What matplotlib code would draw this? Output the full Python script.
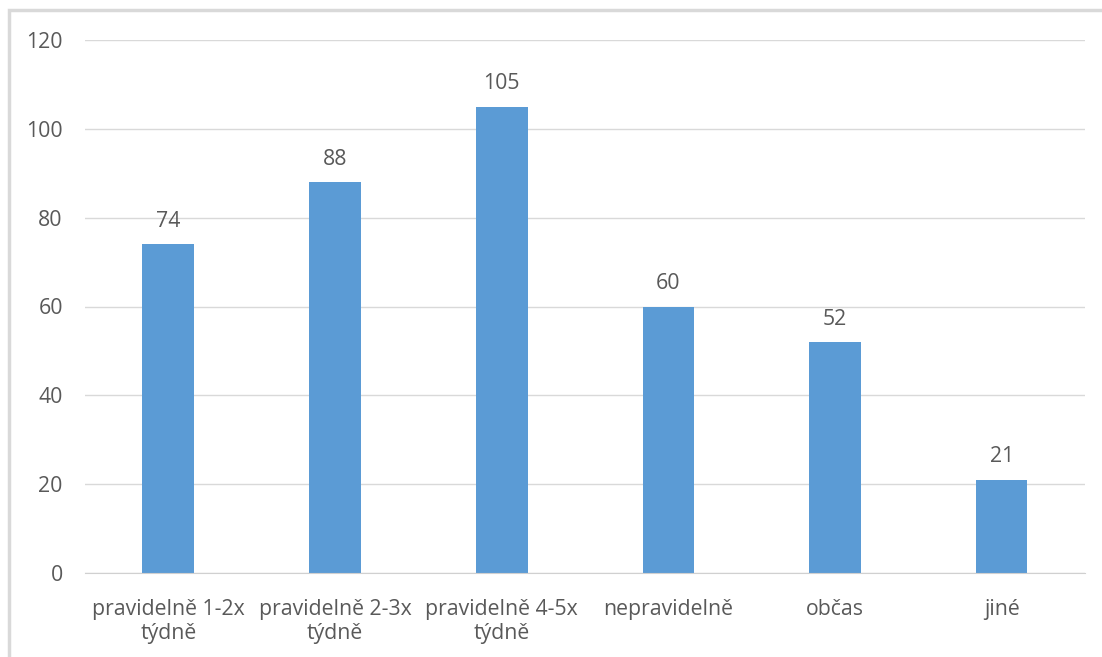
import matplotlib.pyplot as plt
from matplotlib.patches import Rectangle

# Data
categories = ['pravidelně 1-2x\ntýdně', 'pravidelně 2-3x\ntýdně', 'pravidelně 4-5x\ntýdně',
              'nepravidelně', 'občas', 'jiné']
values = [74, 88, 105, 60, 52, 21]
yticks = [0, 20, 40, 60, 80, 100, 120]

BAR_COLOR = '#5B9BD5'
TEXT_COLOR = '#595959'
GRID_COLOR = '#D9D9D9'
FS = 15.3

plt.rcParams['font.family'] = ['Open Sans', 'DejaVu Sans']

fig = plt.figure(figsize=(11.02, 6.57), dpi=100)
ax = fig.add_axes([85 / 1102, 1 - 573 / 657, 1000 / 1102, 533 / 657])

# outer chart frame
fig.patches.append(Rectangle((9 / 1102, -0.05), 1.2, 1 - 10 / 657 + 0.05,
                             transform=fig.transFigure, fill=False,
                             edgecolor='#D9D9D9', linewidth=2.5))

x = range(len(categories))
bars = ax.bar(x, values, width=0.31, color=BAR_COLOR, zorder=3)

for rect, v in zip(bars, values):
    ax.annotate(str(v), (rect.get_x() + rect.get_width() / 2, v),
                xytext=(0, 9), textcoords='offset points',
                ha='center', va='bottom', fontsize=FS, color=TEXT_COLOR)

ax.set_xlim(-0.5, len(categories) - 0.5)
ax.set_ylim(0, 120)
ax.set_yticks(yticks)
ax.set_xticks(list(x))
ax.set_xticklabels(categories, linespacing=1.15)
ax.tick_params(axis='both', length=0, colors=TEXT_COLOR, labelsize=FS)
ax.tick_params(axis='y', pad=16)
ax.tick_params(axis='x', pad=19)
ax.grid(axis='y', color=GRID_COLOR, linewidth=1, zorder=0)

for side in ['top', 'right', 'left']:
    ax.spines[side].set_visible(False)
ax.spines['bottom'].set_color('#D0D0D0')
ax.spines['bottom'].set_zorder(4)

fig.savefig('out.png', dpi=100)
